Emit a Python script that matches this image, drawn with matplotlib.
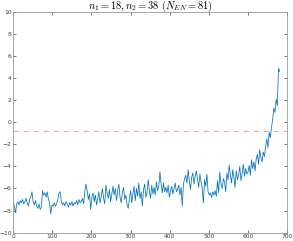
import numpy as np
import matplotlib
matplotlib.use('Agg')
import matplotlib.pyplot as plt

plt.rcParams['mathtext.fontset'] = 'cm'

# series values, one every 3 samples
vals = [
    -7.3, -7.6, -8.2, -7.4, -7.2, -7.5, -7.1, -7.3, -7.0, -7.4, -7.2, -6.9, -7.3, -7.6, -7.0, -6.8, -6.3, -7.2, -7.5, -7.1,
    -7.6, -7.8, -7.4, -7.9, -7.7, -6.2, -6.6, -6.4, -6.8, -6.3, -7.0, -7.3, -8.3, -7.5, -7.6, -7.3, -7.6, -7.4, -7.0, -6.4,
    -6.3, -7.2, -7.5, -7.3, -7.6, -7.2, -7.4, -7.7, -7.3, -7.5, -7.2, -7.6, -7.3, -7.4, -7.1, -7.5, -7.0, -7.3, -7.2, -6.9,
    -7.4, -6.3, -5.6, -6.2, -7.0, -6.5, -7.9, -6.8, -6.4, -7.2, -6.6, -7.5, -6.9, -6.3, -7.3, -6.7, -6.0, -6.9, -7.4, -5.7,
    -6.4, -6.9, -6.1, -7.2, -6.5, -5.8, -6.6, -6.0, -7.1, -6.2, -5.6, -6.8, -7.3, -6.4, -5.9, -7.0, -6.6, -7.5, -7.8, -6.9,
    -6.2, -7.3, -6.5, -5.8, -7.1, -6.0, -6.7, -5.5, -6.9, -6.3, -7.6, -6.1, -5.6, -6.8, -6.4, -5.2, -6.2, -6.9, -5.7, -6.5,
    -5.9, -6.6, -5.4, -6.2, -5.8, -4.5, -5.6, -6.4, -5.5, -6.3, -5.9, -6.4, -5.7, -6.8, -6.2, -5.8, -6.5, -6.0, -5.5, -6.3,
    -6.1, -5.7, -6.6, -5.9, -7.6, -5.6, -5.1, -4.8, -5.5, -4.3, -5.3, -6.1, -5.0, -4.6, -5.6, -4.9, -4.4, -5.2, -5.9, -4.7,
    -5.4, -6.0, -7.3, -5.2, -5.8, -4.7, -6.3, -6.6, -6.4, -6.8, -6.3, -6.6, -6.2, -6.7, -5.3, -6.4, -4.5, -5.6, -6.0, -5.1,
    -5.4, -6.3, -4.6, -5.2, -3.9, -4.8, -5.5, -4.3, -5.0, -5.9, -4.4, -5.2, -4.8, -4.0, -5.3, -4.6, -3.8, -4.9, -4.2, -4.7,
    -4.5, -3.9, -4.8, -3.4, -4.2, -3.6, -4.4, -3.3, -2.9, -3.8, -2.5, -3.2, -3.6, -2.7, -3.1, -2.2, -1.5, -2.3, -0.9, -1.4,
    -0.5, 0.3, 1.3, 0.9, 2.1, 1.5, 4.9, 4.6,
]
step = 3
threshold = -0.8
title = r'$n_1 = 18, n_2 = 38\ (N_{EN} = 81)$'

x = np.arange(len(vals)) * step

fig = plt.figure(figsize=(2.93, 2.41), dpi=100)
ax = fig.add_axes([0.045, 0.035, 0.935, 0.915])

ax.plot(x, vals, color='#0072BD', linewidth=0.55)
ax.axhline(threshold, color='#f4a6a6', linewidth=0.8, linestyle=(0, (5, 4)))

ax.set_xlim(0, 700)
ax.set_ylim(-10, 10)
ax.set_xticks(np.arange(0, 701, 100))
ax.set_yticks(np.arange(-10, 11, 2))
ax.tick_params(direction='in', top=True, right=True, length=2, width=0.5,
               labelsize=4.3, colors='#404040', pad=1.2)
for s in ax.spines.values():
    s.set_color('#999999')
    s.set_linewidth(0.6)
ax.set_title(title, fontsize=7.5, pad=2)

fig.savefig('out.png', dpi=100)
